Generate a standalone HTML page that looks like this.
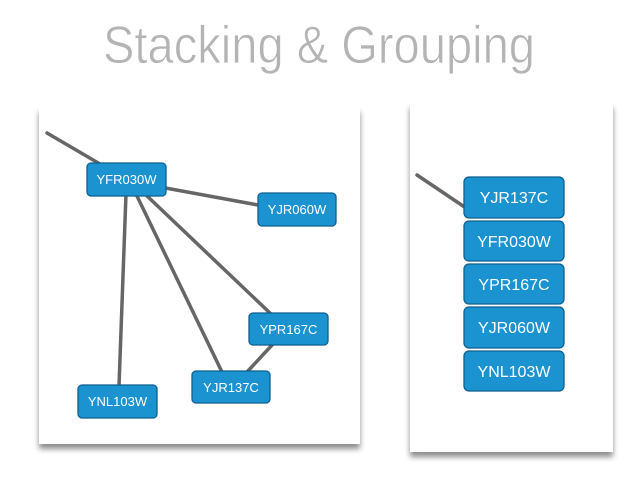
<!DOCTYPE html>
<html><head><meta charset="utf-8"><style>
html,body{margin:0;padding:0;background:#fff;width:638px;height:479px;overflow:hidden}
</style></head><body>
<svg width="638" height="479" viewBox="0 0 638 479" xmlns="http://www.w3.org/2000/svg">
<defs>
<filter id="sh" x="-10%" y="-10%" width="120%" height="125%">
<feGaussianBlur in="SourceAlpha" stdDeviation="3"/>
<feOffset dx="0" dy="5"/>
<feComponentTransfer><feFuncA type="linear" slope="0.45"/></feComponentTransfer>
<feMerge><feMergeNode/><feMergeNode in="SourceGraphic"/></feMerge>
</filter>
</defs>
<text x="319" y="63" text-anchor="middle" font-family="Liberation Sans, sans-serif" font-size="53" font-weight="normal" fill="#b4b4b4" stroke="#fff" stroke-width="0.8" textLength="432" lengthAdjust="spacingAndGlyphs">Stacking &amp; Grouping</text>

<rect x="39" y="107" width="321" height="337" fill="#fff" filter="url(#sh)"/>
<rect x="410" y="103" width="203" height="349" fill="#fff" filter="url(#sh)"/>

<g stroke="#666" stroke-width="3.5" stroke-linecap="round">
<line x1="47" y1="133" x2="100" y2="164"/>
<line x1="160" y1="187" x2="258" y2="205"/>
<line x1="126" y1="194" x2="119" y2="386"/>
<line x1="136" y1="194" x2="222" y2="372"/>
<line x1="145" y1="194" x2="271" y2="314"/>
<line x1="273" y1="344" x2="247" y2="372"/>
<line x1="417" y1="175" x2="466" y2="208"/>
</g>

<g fill="#1b93d1" stroke="#0f5f8e" stroke-width="1.3">
<rect x="87" y="163" width="79" height="33" rx="4"/>
<rect x="258" y="193" width="78" height="33" rx="4"/>
<rect x="249" y="313" width="79" height="32" rx="4"/>
<rect x="192" y="371" width="78" height="32" rx="4"/>
<rect x="78" y="385" width="79" height="33" rx="4"/>
<rect x="464" y="177" width="100" height="41" rx="5"/>
<rect x="464" y="221" width="100" height="40" rx="5"/>
<rect x="464" y="264" width="100" height="40" rx="5"/>
<rect x="464" y="307" width="100" height="41" rx="5"/>
<rect x="464" y="351" width="100" height="40" rx="5"/>
</g>
<g fill="#fff" font-family="Liberation Sans, sans-serif" text-anchor="middle">
<g font-size="13">
<text x="126.5" y="184">YFR030W</text>
<text x="297" y="214">YJR060W</text>
<text x="288.5" y="334">YPR167C</text>
<text x="231" y="392">YJR137C</text>
<text x="117.5" y="406">YNL103W</text>
</g>
<g font-size="16">
<text x="514" y="203">YJR137C</text>
<text x="514" y="247">YFR030W</text>
<text x="514" y="290">YPR167C</text>
<text x="514" y="333">YJR060W</text>
<text x="514" y="377">YNL103W</text>
</g>
</g>
</svg>
</body></html>
